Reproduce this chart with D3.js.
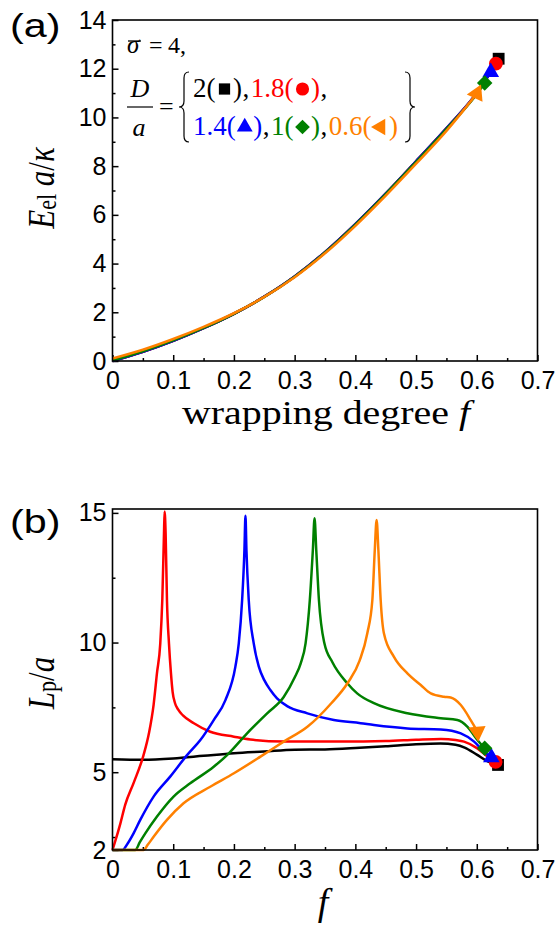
<!DOCTYPE html>
<html>
<head>
<meta charset="utf-8">
<script src="https://cdn.jsdelivr.net/npm/d3@7/dist/d3.min.js"></script>
<style>
  html, body { margin: 0; padding: 0; background: #fff; }
  svg { display: block; }
  .tick text { font-family: "Liberation Sans", Arial, sans-serif; font-size: 25px; fill: #000; }
  .tick line { stroke: #000; stroke-width: 1.5; }
  .domain { display: none; }
</style>
</head>
<body>
<svg id="fig" width="557" height="928"></svg>
<script>
// ---- data -------------------------------------------------------------
const seriesNames = ["D/a = 2", "D/a = 1.8", "D/a = 1.4", "D/a = 1", "D/a = 0.6"];
const seriesColors = ["#000000", "#ff0000", "#0000ff", "#008000", "#ff8000"];

// (a) elastic energy E_el a/kappa versus wrapping degree f
const energyBlack = [[0,0],[0.05,0.38],[0.1,0.83],[0.15,1.35],[0.2,1.94],[0.25,2.64],[0.3,3.47],[0.35,4.47],[0.4,5.62],[0.45,6.87],[0.5,8.2],[0.55,9.55],[0.6,11.0],[0.636,12.41]];
const energyRed = [[0,0],[0.05,0.38],[0.1,0.83],[0.15,1.35],[0.2,1.94],[0.25,2.64],[0.3,3.47],[0.35,4.47],[0.4,5.62],[0.45,6.87],[0.5,8.2],[0.55,9.55],[0.6,11.0],[0.6315,12.21]];
const energyBlue = [[0,0],[0.05,0.38],[0.1,0.83],[0.15,1.35],[0.2,1.94],[0.25,2.64],[0.3,3.47],[0.35,4.47],[0.4,5.62],[0.45,6.87],[0.5,8.2],[0.55,9.55],[0.6,11.0],[0.623,11.86]];
const energyGreen = [[0,0.02],[0.05,0.4],[0.1,0.85],[0.15,1.36],[0.2,1.94],[0.25,2.63],[0.3,3.46],[0.35,4.45],[0.4,5.6],[0.45,6.85],[0.5,8.17],[0.55,9.52],[0.6,10.96],[0.613,11.41]];
const energyOrange = [[0,0.1],[0.05,0.46],[0.1,0.9],[0.15,1.4],[0.2,1.96],[0.25,2.63],[0.3,3.44],[0.35,4.42],[0.4,5.55],[0.45,6.79],[0.5,8.1],[0.55,9.45],[0.6,10.98]];

// (b) L_p/a versus f
const lengthBlack = [[0,5.5],[0.05,5.48],[0.1,5.53],[0.15,5.63],[0.2,5.73],[0.25,5.8],[0.3,5.87],[0.35,5.88],[0.4,5.93],[0.45,6.0],[0.5,6.08],[0.54,6.11],[0.565,6.06],[0.58,5.95],[0.6,5.68],[0.618,5.42],[0.635,5.28]];
const lengthRed = [[0,2],[0.004,2.3],[0.0127,3.0],[0.021,3.75],[0.035,4.6],[0.051,5.65],[0.06,6.5],[0.0677,7.6],[0.0732,8.81],[0.0787,9.97],[0.082,11.64],[0.0848,14.21],[0.0858,15.05],[0.0875,14.21],[0.0897,11.64],[0.093,9.97],[0.0963,8.81],[0.099,8.1],[0.103,7.66],[0.108,7.42],[0.116,7.19],[0.134,6.89],[0.161,6.56],[0.2,6.37],[0.227,6.26],[0.282,6.18],[0.376,6.18],[0.45,6.2],[0.5,6.25],[0.541,6.28],[0.565,6.24],[0.579,6.18],[0.601,5.92],[0.618,5.6],[0.631,5.4]];
const lengthBlue = [[0,2],[0.0165,2],[0.025,2.25],[0.0347,2.64],[0.0457,3.16],[0.0677,4.06],[0.095,4.83],[0.1228,5.66],[0.1447,6.24],[0.1667,7.01],[0.186,7.78],[0.2024,9.07],[0.208,9.97],[0.2135,11.64],[0.2173,13.57],[0.219,14.89],[0.2206,13.57],[0.2244,11.64],[0.2326,9.97],[0.241,9.07],[0.25,8.55],[0.26,8.17],[0.271,7.85],[0.2877,7.55],[0.321,7.27],[0.3646,7.01],[0.4087,6.89],[0.4306,6.82],[0.4857,6.69],[0.5407,6.65],[0.5737,6.5],[0.5956,6.18],[0.612,5.79],[0.624,5.57]];
const lengthGreen = [[0,2],[0.0374,2],[0.045,2.3],[0.054,2.64],[0.073,3.28],[0.1006,4.06],[0.128,4.57],[0.1667,5.21],[0.1887,5.66],[0.2217,6.5],[0.2547,7.27],[0.282,7.9],[0.3,8.65],[0.31,9.2],[0.318,9.97],[0.325,11.64],[0.33,13.57],[0.3328,14.79],[0.3356,13.57],[0.34,11.64],[0.349,9.97],[0.362,9.25],[0.3867,8.43],[0.403,8.04],[0.4306,7.66],[0.4857,7.27],[0.5407,7.08],[0.568,7.01],[0.5847,6.75],[0.601,6.24],[0.613,5.92]];
const lengthOrange = [[0,2],[0.0512,2],[0.058,2.2],[0.0677,2.51],[0.0897,3.16],[0.117,3.8],[0.161,4.44],[0.2,4.96],[0.2437,5.6],[0.282,6.18],[0.321,6.75],[0.36,7.65],[0.387,8.43],[0.407,9.3],[0.4197,10.36],[0.428,11.64],[0.432,13.57],[0.435,14.73],[0.4379,13.57],[0.4417,11.64],[0.447,10.36],[0.4636,9.45],[0.4857,8.81],[0.5077,8.36],[0.5242,8.04],[0.546,7.91],[0.557,7.88],[0.5737,7.59],[0.59,7.01],[0.598,6.69],[0.601,6.56]];

const energySeries = [energyBlack, energyRed, energyBlue, energyGreen, energyOrange];
const lengthSeries = [lengthBlack, lengthRed, lengthBlue, lengthGreen, lengthOrange];

const fTicks = [0, 0.1, 0.2, 0.3, 0.4, 0.5, 0.6, 0.7];
const fMinorTicks = [0.05, 0.15, 0.25, 0.35, 0.45, 0.55, 0.65];
const energyTicks = [0, 2, 4, 6, 8, 10, 12, 14];
const energyMinorTicks = [1, 3, 5, 7, 9, 11, 13];
const lengthTicks = [2, 5, 10, 15];
const lengthMinorTicks = [2.5, 7.5, 12.5];

// legend rows: [text, series index (-1 = black)], markers marked with m
const legendRow1 = [["2(", 0], [0, "m"], [")", 0], [",", -1], ["1.8(", 1], [1, "m"], [")", 1], [",", -1]];
const legendRow2 = [["1.4(", 2], [2, "m"], [")", 2], [",", -1], ["1(", 3], [3, "m"], [")", 3], [",", -1], ["0.6(", 4], [4, "m"], [")", 4]];

// ---- drawing -----------------------------------------------------------
const svg = d3.select("#fig");
const serif = '"Liberation Serif", "Times New Roman", serif';
const sans = '"Liberation Sans", Arial, sans-serif';

// marker shape for series i; rot = extra rotation of the last (triangle) marker
function marker(i, scale, rot) {
  const types = [d3.symbolSquare, d3.symbolCircle, d3.symbolTriangle, d3.symbolSquare, d3.symbolTriangle];
  const sizes = [140, 150, 120, 120, 130];
  const rots = [0, 0, 0, 45, rot];
  return { d: d3.symbol().type(types[i]).size(sizes[i] * scale * scale)(), rot: rots[i] };
}

function panel(cfg) {
  const x = d3.scaleLinear().domain([0, 0.7]).range([112.5, 537.5]);
  const y = d3.scaleLinear().domain(cfg.yDomain).range([cfg.bottom, cfg.top]);
  const g = svg.append("g");

  // ticks (inward, bottom and left only)
  g.append("g").attr("transform", `translate(0,${cfg.bottom})`)
    .call(d3.axisBottom(x).tickValues(fTicks).tickSize(-6).tickPadding(10)
      .tickFormat(d => d === 0 ? "0" : d3.format(".1f")(d)));
  g.append("g").attr("transform", `translate(0,${cfg.bottom})`)
    .call(d3.axisBottom(x).tickValues(fMinorTicks).tickSize(-3).tickFormat(""));
  g.append("g").attr("transform", `translate(112.5,0)`)
    .call(d3.axisLeft(y).tickValues(cfg.yTicks).tickSize(-6).tickPadding(6).tickFormat(d3.format("d")));
  g.append("g").attr("transform", `translate(112.5,0)`)
    .call(d3.axisLeft(y).tickValues(cfg.yMinor).tickSize(-3).tickFormat(""));

  const line = d3.line().x(d => x(d[0])).y(d => y(d[1])).curve(d3.curveMonotoneX);
  cfg.series.forEach((s, i) => {
    g.append("path").datum(s).attr("d", line)
      .attr("fill", "none").attr("stroke", seriesColors[i])
      .attr("stroke-width", cfg.lineWidth).attr("stroke-linejoin", "round");
  });

  // end markers
  cfg.series.forEach((s, i) => {
    const p = s[s.length - 1];
    const m = marker(i, 1, cfg.lastRotate);
    g.append("path").attr("d", m.d)
      .attr("transform", `translate(${x(p[0])},${y(p[1])}) rotate(${m.rot})`)
      .attr("fill", seriesColors[i]);
  });

  // frame
  g.append("rect").attr("x", 112.5).attr("y", cfg.top)
    .attr("width", 425).attr("height", cfg.bottom - cfg.top)
    .attr("fill", "none").attr("stroke", "#000").attr("stroke-width", 1.6);
  return { x, y, g };
}

panel({ yDomain: [0, 14], top: 20, bottom: 361, yTicks: energyTicks, yMinor: energyMinorTicks,
  series: energySeries, lineWidth: 2.6, lastRotate: -95 });
panel({ yDomain: [2, 15.15], top: 509, bottom: 850, yTicks: lengthTicks, yMinor: lengthMinorTicks,
  series: lengthSeries, lineWidth: 2.5, lastRotate: 175 });

// panel letters
svg.append("text").attr("transform", "translate(10,37) scale(1.25,1)")
  .attr("font-family", sans).attr("font-size", 33).text("(a)");
svg.append("text").attr("transform", "translate(10,533) scale(1.25,1)")
  .attr("font-family", sans).attr("font-size", 33).text("(b)");

// axis titles
const xt = svg.append("text").attr("transform", "translate(326,424) scale(1.21,1)").attr("text-anchor", "middle")
  .attr("font-family", serif).attr("font-size", 33);
xt.append("tspan").text("wrapping degree ");
xt.append("tspan").attr("font-style", "italic").text("f");

svg.append("text").attr("x", 323).attr("y", 915).attr("text-anchor", "middle")
  .attr("font-family", serif).attr("font-size", 38).attr("font-style", "italic").text("f");

const ya = svg.append("text").attr("transform", "translate(54,188) scale(1.2,1) rotate(-90)")
  .attr("text-anchor", "middle").attr("font-family", serif).attr("font-size", 31);
ya.append("tspan").attr("font-style", "italic").text("E");
ya.append("tspan").attr("font-size", 22).attr("dy", 2).text("el");
ya.append("tspan").attr("font-style", "italic").attr("dy", -2).text(" a");
ya.append("tspan").text("/");
ya.append("tspan").attr("font-style", "italic").text("κ");

const yb = svg.append("text").attr("transform", "translate(54,683) scale(1.2,1) rotate(-90)")
  .attr("text-anchor", "middle").attr("font-family", serif).attr("font-size", 31);
yb.append("tspan").attr("font-style", "italic").text("L");
yb.append("tspan").attr("font-size", 22).attr("dy", 2).text("p");
yb.append("tspan").attr("dy", -2).text("/");
yb.append("tspan").attr("font-style", "italic").text("a");

// parameter annotation in panel (a)
svg.append("text").attr("x", 127).attr("y", 53).attr("font-family", serif).attr("font-size", 25)
  .attr("font-style", "italic").text("σ");
svg.append("line").attr("x1", 128).attr("x2", 141).attr("y1", 41).attr("y2", 41)
  .attr("stroke", "#000").attr("stroke-width", 1.3);
svg.append("text").attr("x", 149).attr("y", 53).attr("font-family", serif).attr("font-size", 24).text("=");
svg.append("text").attr("x", 168).attr("y", 53).attr("font-family", serif).attr("font-size", 24).text("4,");

svg.append("text").attr("x", 140).attr("y", 97).attr("text-anchor", "middle")
  .attr("font-family", serif).attr("font-size", 26).attr("font-style", "italic").text("D");
svg.append("line").attr("x1", 127).attr("x2", 153).attr("y1", 107).attr("y2", 107)
  .attr("stroke", "#000").attr("stroke-width", 1.2);
svg.append("text").attr("x", 139).attr("y", 136).attr("text-anchor", "middle")
  .attr("font-family", serif).attr("font-size", 26).attr("font-style", "italic").text("a");
svg.append("text").attr("x", 159).attr("y", 115).attr("font-family", serif).attr("font-size", 26).text("=");

// braces
svg.append("path").attr("d", "M189,72 Q184,72 184,78 L184,101 Q184,107 179,107 Q184,107 184,113 L184,136 Q184,142 189,142")
  .attr("fill", "none").attr("stroke", "#000").attr("stroke-width", 1.2);
svg.append("path").attr("d", "M405,72 Q410,72 410,78 L410,101 Q410,107 415,107 Q410,107 410,113 L410,136 Q410,142 405,142")
  .attr("fill", "none").attr("stroke", "#000").attr("stroke-width", 1.2);

function legendRow(items, x0, yBase) {
  let xPos = x0;
  items.forEach(([a, b]) => {
    if (b === "m") {
      const m = marker(a, 0.95, -90);
      svg.append("path").attr("d", m.d)
        .attr("transform", `translate(${xPos + 8.5},${yBase - 8}) rotate(${m.rot})`)
        .attr("fill", seriesColors[a]);
      xPos += 17;
    } else {
      const t = svg.append("text").attr("x", xPos).attr("y", yBase)
        .attr("font-family", serif).attr("font-size", 27)
        .attr("fill", b < 0 ? "#000" : seriesColors[b]).text(a);
      xPos += t.node().getComputedTextLength() + (a === "," ? 1.5 : 0.5);
    }
  });
}
legendRow(legendRow1, 193, 97);
legendRow(legendRow2, 193, 135);
</script>
</body>
</html>
